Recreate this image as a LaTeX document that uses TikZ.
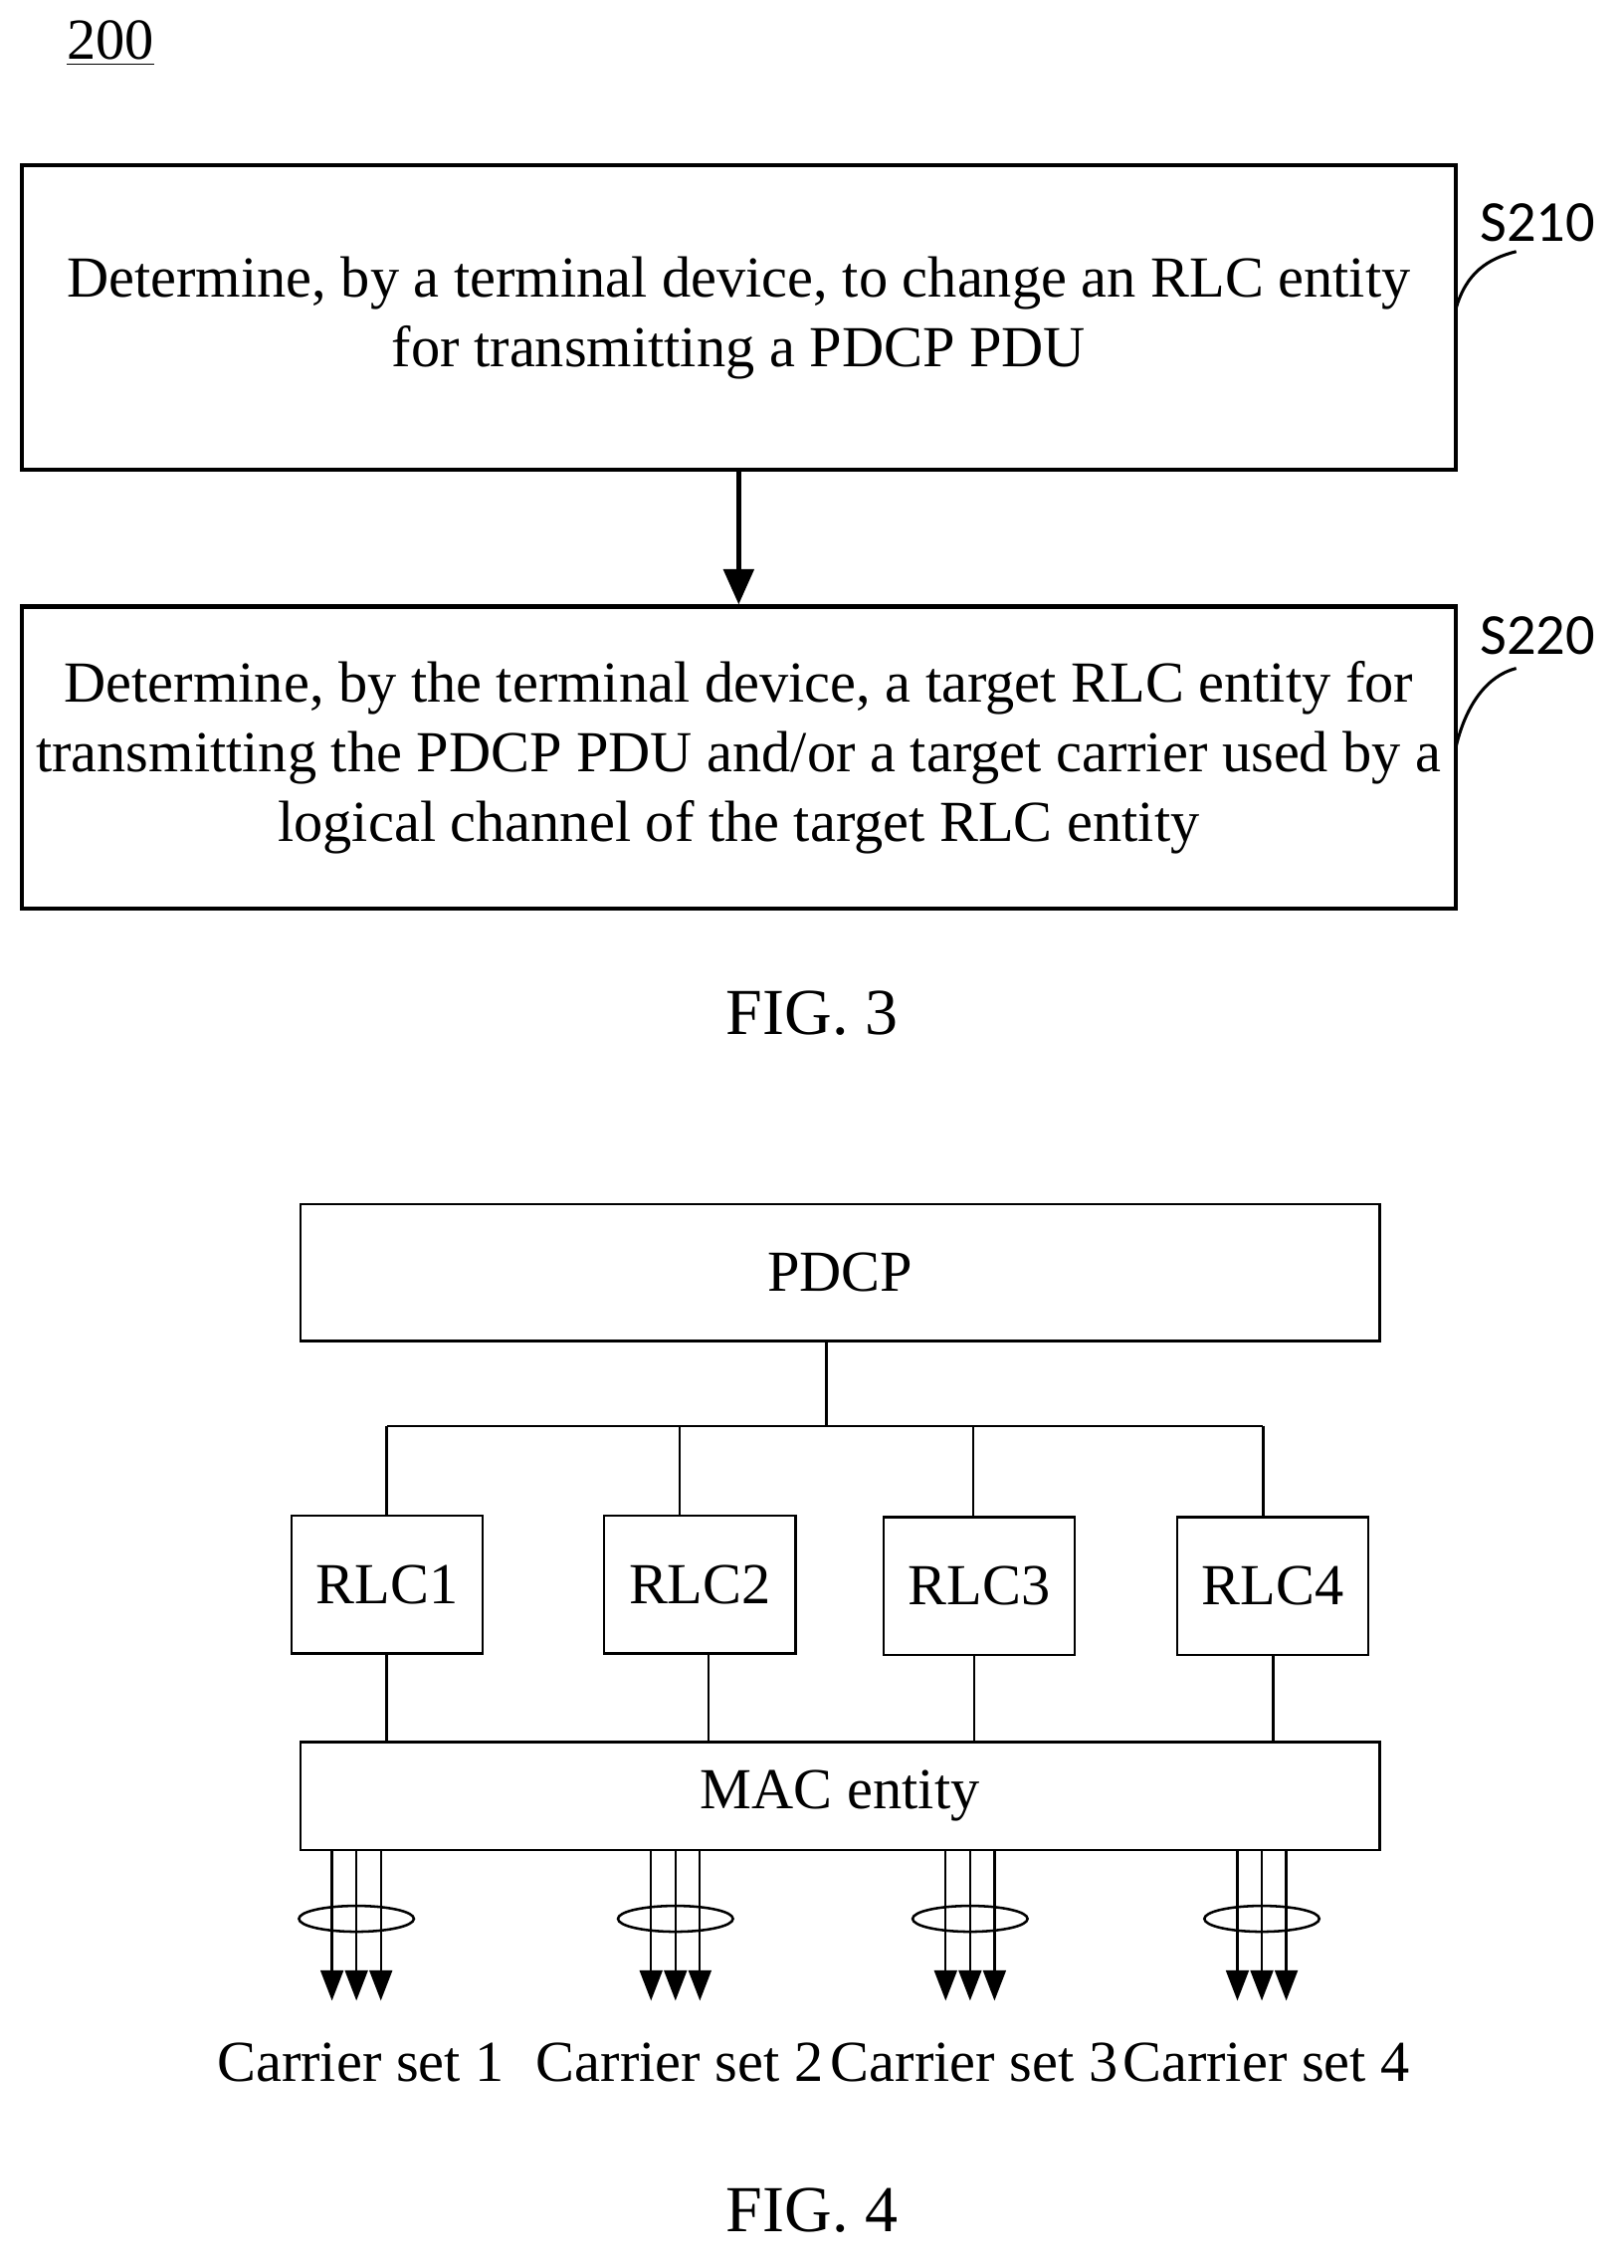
\documentclass[tikz,border=0pt]{standalone}
\usepackage{fontspec}
\setmainfont{Liberation Serif}
\newfontfamily\stepfont{Carlito}
\usetikzlibrary{positioning,arrows.meta}
\begin{document}
\begin{tikzpicture}[x=0.02cm,y=-0.02cm]
	\tikzset{every node/.style={inner sep=0pt,font=\fontsize{23}{27.5}\selectfont},
		stepbox/.style={draw,line width=1.7pt,align=center,minimum width=998*0.02cm},
		blk/.style={draw,line width=0.9pt,align=center},
		rlc/.style={blk,minimum width=133*0.02cm,minimum height=96*0.02cm},
		lead/.style={line width=1.2pt},
		carr/.style={line width=0.9pt,-{Triangle[length=12pt,width=9pt]}}}
	\useasboundingbox (0,0) rectangle (1130,1578);
	\node (num) at (77,30) {\underline{200}};
	% FIG. 3
	\node[stepbox,minimum height=212*0.02cm] (s1) at (514,221) {Determine, by a terminal device, to change an RLC entity\\for transmitting a PDCP PDU};
	\node[stepbox,minimum height=210*0.02cm] (s2) at (514,527) {Determine, by the terminal device, a target RLC entity for\\transmitting the PDCP PDU and/or a target carrier used by a\\logical channel of the target RLC entity};
	\draw[line width=1.7pt,-{Triangle[length=14pt,width=12pt]}] (s1.south) -- (s2.north);
	\node[font=\stepfont\fontsize{23}{27}\selectfont] (l1) at (1070,155) {S210};
	\node[font=\stepfont\fontsize{23}{27}\selectfont] (l2) at (1070,442) {S220};
	\draw[lead] (1013,215) .. controls (1020,190) and (1035,180) .. (1055,175);
	\draw[lead] (1013,520) .. controls (1020,490) and (1035,470) .. (1055,465);
	\node[font=\fontsize{26}{30}\selectfont] (f3) at (565,705) {FIG. 3};
	% FIG. 4
	\node[blk,minimum width=751*0.02cm,minimum height=95*0.02cm] (pdcp) at (584.5,885.5) {PDCP};
	\node[rlc] (r1) at (269.5,1102.5) {RLC1};
	\node[rlc] (r2) at (487,1102.5) {RLC2};
	\node[rlc] (r3) at (681.5,1103.5) {RLC3};
	\node[rlc] (r4) at (885.5,1103.5) {RLC4};
	\node[blk,minimum width=751*0.02cm,minimum height=75*0.02cm] (mac) at (584.5,1249.5) {MAC entity};
	\coordinate (bus) at (575,992);
	\draw[line width=0.9pt] (pdcp.south -| bus) -- (bus);
	\draw[line width=0.9pt] (269,992) -- (879,992);
	\foreach \x/\r in {269/r1,473/r2,677/r3,879/r4}
		\draw[line width=0.9pt] (\x,992) -- (\r.north -| \x,0);
	\foreach \x/\r in {269/r1,493/r2,678/r3,886/r4}
		\draw[line width=0.9pt] (\r.south -| \x,0) -- (mac.north -| \x,0);
	\foreach \x/\n in {248/1,470/2,675/3,878/4}{
		\foreach \d in {-17,0,17}
			\draw[carr] (\x+\d,1287) -- (\x+\d,1392);
		\draw[line width=1pt] (\x,1335) ellipse (40 and 9);
		\node (c\n) at (\x+3,1435) {Carrier set \n};
	}
	\node[font=\fontsize{26}{30}\selectfont] (f4) at (565,1538) {FIG. 4};
\end{tikzpicture}
\end{document}
